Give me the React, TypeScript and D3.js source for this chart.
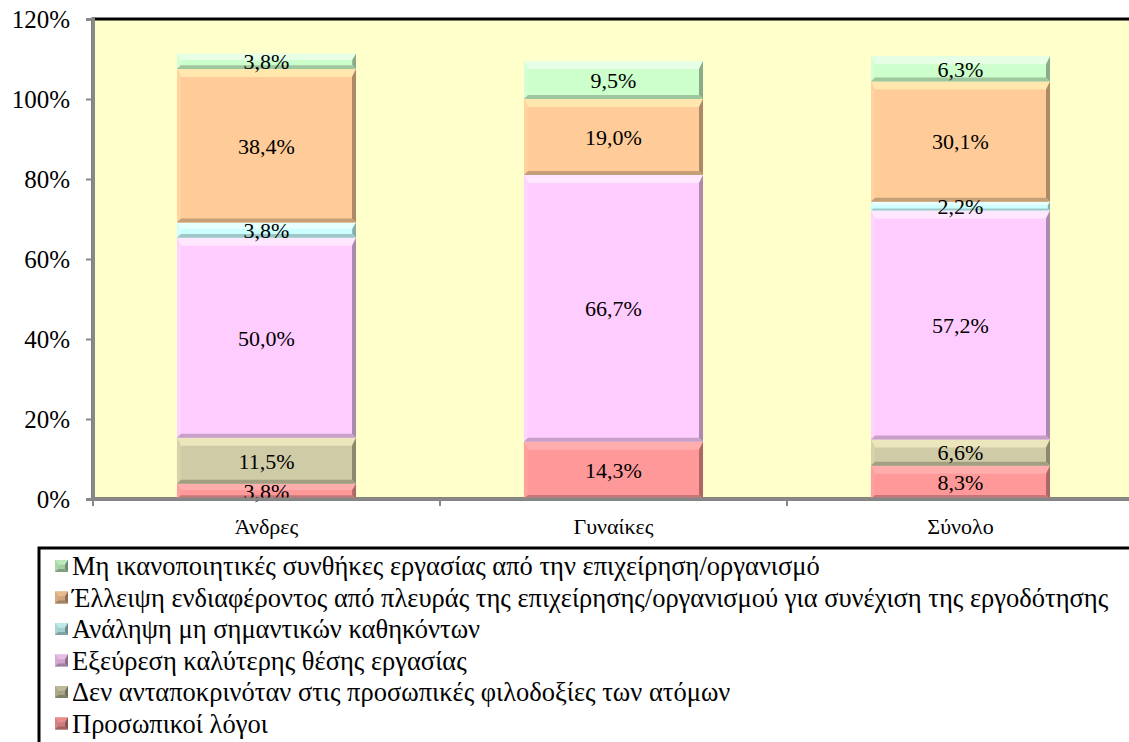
import { useEffect, useRef } from "react";
import * as d3 from "d3";

const categories = ["Άνδρες", "Γυναίκες", "Σύνολο"];

// stacked from bottom to top
const personal = [3.8, 14.3, 8.3];
const ambitions = [11.5, 0, 6.6];
const betterJob = [50.0, 66.7, 57.2];
const unimportant = [3.8, 0, 2.2];
const lackInterest = [38.4, 19.0, 30.1];
const conditions = [3.8, 9.5, 6.3];

const seriesNames = [
  "Προσωπικοί λόγοι",
  "Δεν ανταποκρινόταν στις προσωπικές φιλοδοξίες των ατόμων",
  "Εξεύρεση καλύτερης θέσης εργασίας",
  "Ανάληψη μη σημαντικών καθηκόντων",
  "Έλλειψη ενδιαφέροντος από πλευράς της επιχείρησης/οργανισμού για συνέχιση της εργοδότησης",
  "Μη ικανοποιητικές συνθήκες εργασίας από την επιχείρηση/οργανισμό",
];
const seriesColors = ["#FF9999", "#CFCBA6", "#FFCCFF", "#CCFFFF", "#FFCC99", "#CCFFCC"];
const yTicks = [0, 0.2, 0.4, 0.6, 0.8, 1.0, 1.2];

const W = 1129;
const H = 742;
const FONT = "'Liberation Serif', 'Times New Roman', serif";

const App = () => {
  const svgRef = useRef<SVGSVGElement>(null);

  useEffect(() => {
    const svg = d3.select(svgRef.current);
    svg.selectAll("*").remove();

    const margin = { top: 19, left: 93, bottom: 499, right: 1134 };
    const values = [personal, ambitions, betterJob, unimportant, lackInterest, conditions];
    const rows = categories.map((c, i) => {
      const r: any = { cat: c };
      values.forEach((v, k) => (r["s" + k] = v[i] / 100));
      return r;
    });
    const keys = values.map((_, k) => "s" + k);
    const stacked = d3.stack().keys(keys)(rows);

    const x = d3
      .scaleBand()
      .domain(categories)
      .range([margin.left, margin.right])
      .paddingInner(0.484)
      .paddingOuter(0.242);
    const y = d3.scaleLinear().domain([0, 1.2]).range([margin.bottom, margin.top]);

    // plot area
    svg
      .append("rect")
      .attr("x", margin.left)
      .attr("y", margin.top)
      .attr("width", margin.right - margin.left)
      .attr("height", margin.bottom - margin.top)
      .attr("fill", "#FFFFCC")
      .attr("stroke", "#000")
      .attr("stroke-width", 3);

    const bevel = (g: any, x0: number, y0: number, w: number, h: number, color: string) => {
      const c: any = d3.color(color)!;
      g.append("rect").attr("x", x0).attr("y", y0).attr("width", w).attr("height", h).attr("fill", color);
      const t = Math.min(8, h / 2.5);
      const s = Math.min(4, h / 4);
      const x1 = x0 + w;
      const y1 = y0 + h;
      const poly = (pts: number[][], fill: string) =>
        g.append("polygon").attr("points", pts.map((p) => p.join(",")).join(" ")).attr("fill", fill);
      poly([[x0, y0], [x1, y0], [x1 - s, y0 + t], [x0 + s, y0 + t]], c.brighter(0.35).formatHex());
      poly([[x0, y0], [x0 + s, y0 + t], [x0 + s, y1 - s], [x0, y1]], c.brighter(0.1).formatHex());
      poly([[x1, y0], [x1, y1], [x1 - s, y1 - s], [x1 - s, y0 + t]], c.darker(1.1).formatHex());
      poly([[x0, y1], [x0 + s, y1 - s], [x1 - s, y1 - s], [x1, y1]], c.darker(0.7).formatHex());
    };

    const fmt = (v: number) => d3.format(".1f")(v * 100).replace(".", ",") + "%";

    stacked.forEach((layer, k) => {
      const g = svg.append("g");
      layer.forEach((d: any) => {
        const v = d[1] - d[0];
        if (v <= 0) return;
        const x0 = x(d.data.cat)!;
        const y0 = y(d[1]);
        const h = y(d[0]) - y(d[1]);
        bevel(g, x0, y0, x.bandwidth(), h, seriesColors[k]);
      });
    });
    stacked.forEach((layer) => {
      layer.forEach((d: any) => {
        const v = d[1] - d[0];
        if (v <= 0) return;
        svg
          .append("text")
          .attr("x", x(d.data.cat)! + x.bandwidth() / 2)
          .attr("y", (y(d[0]) + y(d[1])) / 2)
          .attr("dy", "0.35em")
          .attr("text-anchor", "middle")
          .attr("font-family", FONT)
          .attr("font-size", 22)
          .attr("fill", "#000")
          .text(fmt(v));
      });
    });

    // axes
    const ya = svg
      .append("g")
      .attr("transform", `translate(${margin.left},0)`)
      .call(d3.axisLeft(y).tickValues(yTicks).tickSize(7).tickPadding(16).tickFormat(d3.format(".0%") as any));
    ya.attr("font-family", FONT).attr("font-size", 25);
    ya.select(".domain").attr("stroke", "#888").attr("stroke-width", 3);
    ya.selectAll(".tick line").attr("stroke", "#888").attr("stroke-width", 2);
    ya.selectAll(".tick text").attr("fill", "#000");

    const bounds = categories.map((c) => x(c)! - (x.step() * x.paddingInner()) / 2).concat([margin.right]);
    const xa = svg.append("g");
    xa.append("line")
      .attr("x1", margin.left)
      .attr("x2", margin.right)
      .attr("y1", margin.bottom)
      .attr("y2", margin.bottom)
      .attr("stroke", "#888")
      .attr("stroke-width", 3);
    bounds.forEach((b) =>
      xa
        .append("line")
        .attr("x1", b)
        .attr("x2", b)
        .attr("y1", margin.bottom)
        .attr("y2", margin.bottom + 7)
        .attr("stroke", "#888")
        .attr("stroke-width", 2)
    );
    categories.forEach((c) =>
      xa
        .append("text")
        .attr("x", x(c)! + x.bandwidth() / 2)
        .attr("y", 534)
        .attr("text-anchor", "middle")
        .attr("font-family", FONT)
        .attr("font-size", 22)
        .text(c)
    );

    // legend
    const lg = svg.append("g");
    lg.append("rect")
      .attr("x", 39)
      .attr("y", 548)
      .attr("width", 1110)
      .attr("height", 220)
      .attr("fill", "#fff")
      .attr("stroke", "#000")
      .attr("stroke-width", 3);
    const order = d3.range(seriesNames.length).reverse();
    order.forEach((k, i) => {
      const cy = 566 + i * 31.5;
      bevel(lg, 55, cy - 6, 13, 12, d3.color(seriesColors[k])!.darker(0.6).formatHex());
      lg.append("text")
        .attr("x", 72)
        .attr("y", cy)
        .attr("dy", "0.35em")
        .attr("font-family", FONT)
        .attr("font-size", 26.5)
        .text(seriesNames[k]);
    });
  }, []);

  return (
    <svg
      ref={svgRef}
      width={W}
      height={H}
      style={{ position: "absolute", left: 0, top: 0, background: "#fff" }}
    ></svg>
  );
};

export default App;
